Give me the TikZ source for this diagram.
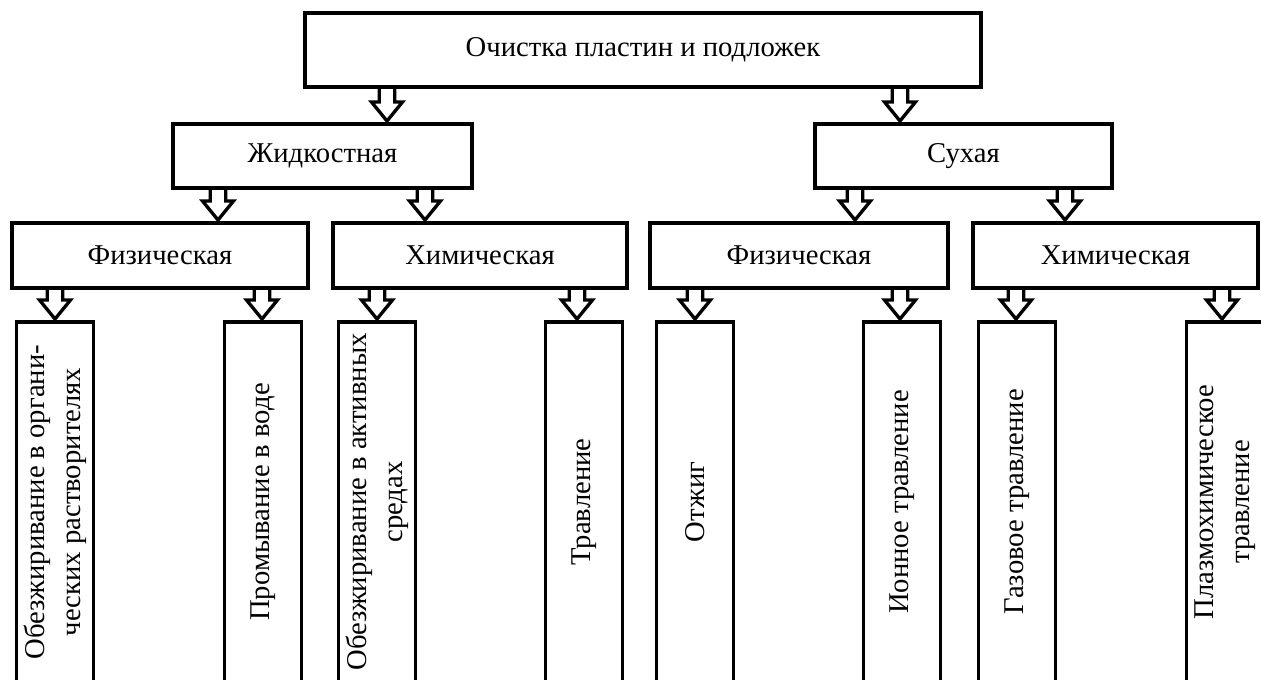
\documentclass[tikz,border=0pt]{standalone}
\usepackage{fontspec}
\setmainfont{Liberation Serif}
\usetikzlibrary{calc}
\tikzset{
  box/.style={
    rectangle, draw=black, line width=2.9pt, text centered, inner sep=2pt,
    font=\fontsize{21.5}{27}\selectfont
  },
  stage/.style={
    box, minimum height=48.75pt
  },
  leaf/.style={
    box, rotate=90, align=center, minimum width=270pt, minimum height=57.75pt
  },
  hollow/.style={
    draw=black, line width=2.5pt, line join=miter
  }
}
\newcommand{\hollowarrow}[3]{%
  \draw[hollow] let \p1=(#1), \p2=(#2), \p3=(#3,0) in
    (\x3-5.8pt,\y1) -- (\x3-5.8pt,\y2+15pt) -- (\x3-11.6pt,\y2+15pt) -- (\x3,\y2+0.8pt)
    -- (\x3+11.6pt,\y2+15pt) -- (\x3+5.8pt,\y2+15pt) -- (\x3+5.8pt,\y1);
}

\begin{document}
\begin{tikzpicture}[x=0.75pt, y=-0.75pt]
\useasboundingbox (0,0) rectangle (1261,680);
\clip (0,0) rectangle (1261,680);

\node[stage, minimum width=507pt, minimum height=55.5pt] (root) at (643,50) {Очистка пластин и подложек};

\node[stage, minimum width=224.25pt, minimum height=48pt] (liquid) at (322.5,156) {Жидкостная};
\node[stage, minimum width=222.75pt, minimum height=48pt] (dry) at (963.5,156) {Сухая};

\node[stage, minimum width=222pt] (liqphys) at (160,255.5) {Физическая};
\node[stage, minimum width=220.5pt] (liqchem) at (480,255.5) {Химическая};
\node[stage, minimum width=223.5pt] (dryphys) at (799,255.5) {Физическая};
\node[stage, minimum width=213.75pt] (drychem) at (1115.5,255.5) {Химическая};

\node[leaf] (degreaseorg) at (55,502) {Обезжиривание в органи-\\ческих растворителях};
\node[leaf] (rinse) at (263,502) {Промывание в воде};
\node[leaf] (degreaseact) at (377,502) {Обезжиривание в активных\\средах};
\node[leaf] (etch) at (584,502) {Травление};
\node[leaf] (anneal) at (695,502) {Отжиг};
\node[leaf] (ionetch) at (902,502) {Ионное травление};
\node[leaf] (gasetch) at (1017,502) {Газовое травление};
\node[leaf] (plasmaetch) at (1225,502) {Плазмохимическое\\травление};

\hollowarrow{root.south}{liquid.north}{387}
\hollowarrow{root.south}{dry.north}{900}
\hollowarrow{liquid.south}{liqphys.north}{218}
\hollowarrow{liquid.south}{liqchem.north}{425}
\hollowarrow{dry.south}{dryphys.north}{855}
\hollowarrow{dry.south}{drychem.north}{1065}

\hollowarrow{liqphys.south}{degreaseorg.east}{55}
\hollowarrow{liqphys.south}{rinse.east}{262}
\hollowarrow{liqchem.south}{degreaseact.east}{377}
\hollowarrow{liqchem.south}{etch.east}{577}
\hollowarrow{dryphys.south}{anneal.east}{695}
\hollowarrow{dryphys.south}{ionetch.east}{900}
\hollowarrow{drychem.south}{gasetch.east}{1016}
\hollowarrow{drychem.south}{plasmaetch.east}{1222}
\end{tikzpicture}
\end{document}
